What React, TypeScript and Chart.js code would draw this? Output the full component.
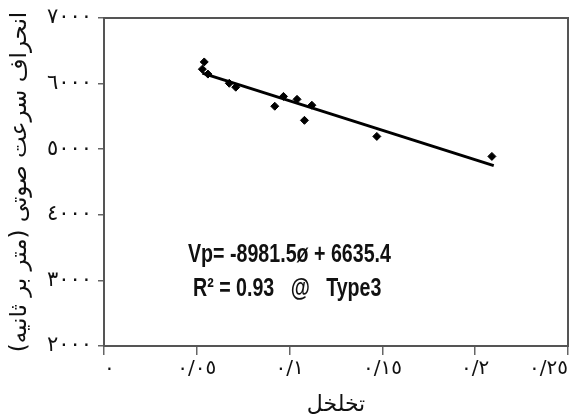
import React, { useEffect, useRef } from "react";
import { Chart, registerables } from "chart.js";

Chart.register(...registerables);

// Porosity (x) and velocity deviation Vp (y)
const porosity = [0.054, 0.053, 0.056, 0.0675, 0.071, 0.092, 0.0967, 0.104, 0.108, 0.112, 0.147, 0.209];
const velocity = [6330, 6220, 6145, 6005, 5945, 5655, 5805, 5760, 5440, 5670, 5195, 4890];

// Trend line end points (Vp = -8981.5ø + 6635.4)
const trendX = [0.053, 0.210];
const trendY = [6160, 4750];

const xTickLabels = ["٠", "٠/٠٥", "٠/١", "٠/١٥", "٠/٢", "٠/٢٥"];
const yTickLabels = ["٢٠٠٠", "٣٠٠٠", "٤٠٠٠", "٥٠٠٠", "٦٠٠٠", "٧٠٠٠"];

const xTitle = "تخلخل";
const yTitle = "انحراف سرعت صوتی (متر بر ثانیه)";
const equationLines = ["Vp= -8981.5ø + 6635.4", "R² = 0.93   @   Type3"];

const framePlugin = {
  id: "frame",
  afterDraw(chart: any) {
    const { ctx, chartArea } = chart;
    ctx.save();
    ctx.strokeStyle = "#555";
    ctx.lineWidth = 2;
    ctx.strokeRect(chartArea.left, chartArea.top, chartArea.right - chartArea.left, chartArea.bottom - chartArea.top);
    ctx.restore();

    ctx.save();
    ctx.fillStyle = "#111";
    ctx.font = "bold 26px 'Liberation Sans', Arial, sans-serif";
    ctx.textAlign = "left";
    ctx.textBaseline = "alphabetic";
    const sx = 0.755;
    ctx.translate(chartArea.left + 84, chartArea.top + 244);
    ctx.scale(sx, 1);
    ctx.fillText(equationLines[0], 0, 0);
    ctx.fillText(equationLines[1], 5 / sx, 34);
    ctx.restore();
  },
};

export default function App() {
  const ref = useRef<HTMLCanvasElement | null>(null);
  useEffect(() => {
    if (!ref.current) return;
    const chart = new Chart(ref.current, {
      type: "scatter",
      data: {
        datasets: [
          {
            label: "points",
            data: porosity.map((x, i) => ({ x, y: velocity[i] })),
            pointStyle: "rectRot",
            pointRadius: 4,
            backgroundColor: "#000",
            borderColor: "#000",
            borderWidth: 1,
          },
          {
            type: "line",
            label: "trend",
            data: trendX.map((x, i) => ({ x, y: trendY[i] })),
            borderColor: "#000",
            borderWidth: 3,
            pointRadius: 0,
            showLine: true,
            fill: false,
          } as any,
        ],
      },
      options: {
        animation: false,
        responsive: false,
        maintainAspectRatio: false,
        layout: { padding: { top: 18, right: 5, left: 0, bottom: 0 } },
        plugins: { legend: { display: false }, tooltip: { enabled: false } },
        scales: {
          x: {
            type: "linear",
            min: 0,
            max: 0.25,
            afterFit(scale: any) {
              scale.height = 72;
              scale.paddingLeft = 0;
              scale.paddingRight = 0;
            },
            ticks: {
              stepSize: 0.05,
              color: "#111",
              padding: 2,
              align: "inner",
              maxRotation: 0,
              font: { family: "'DejaVu Sans'", size: 20 },
              callback: (v: any) => xTickLabels[Math.round(Number(v) / 0.05)] ?? "",
            },
            grid: { drawOnChartArea: false, drawTicks: true, tickLength: 9, color: "#666", lineWidth: 1.5 },
            border: { display: true, color: "#555", width: 2 },
            title: {
              display: true,
              text: xTitle,
              color: "#111",
              font: { family: "'DejaVu Sans'", size: 22 },
              padding: { top: 4, bottom: 0 },
            },
          },
          y: {
            type: "linear",
            min: 2000,
            max: 7000,
            afterFit(scale: any) {
              scale.width = 104;
              scale.paddingTop = 0;
              scale.paddingBottom = 0;
            },
            ticks: {
              stepSize: 1000,
              color: "#111",
              padding: 6,
              font: { family: "'DejaVu Sans'", size: 21 },
              callback: (v: any) => yTickLabels[Math.round((Number(v) - 2000) / 1000)] ?? "",
            },
            grid: { drawOnChartArea: false, drawTicks: true, tickLength: 6, color: "#666", lineWidth: 1.5 },
            border: { display: true, color: "#555", width: 2 },
            title: {
              display: true,
              text: yTitle,
              color: "#111",
              font: { family: "'DejaVu Sans'", size: 23 },
              padding: { top: 6, bottom: 0 },
            },
          },
        },
      },
      plugins: [framePlugin],
    });
    return () => chart.destroy();
  }, []);
  return (
    <div style={{ position: "absolute", left: 0, top: 0, width: 573, height: 418, background: "#fff" }}>
      <canvas ref={ref} width={573} height={418} style={{ width: 573, height: 418 }} />
    </div>
  );
}
